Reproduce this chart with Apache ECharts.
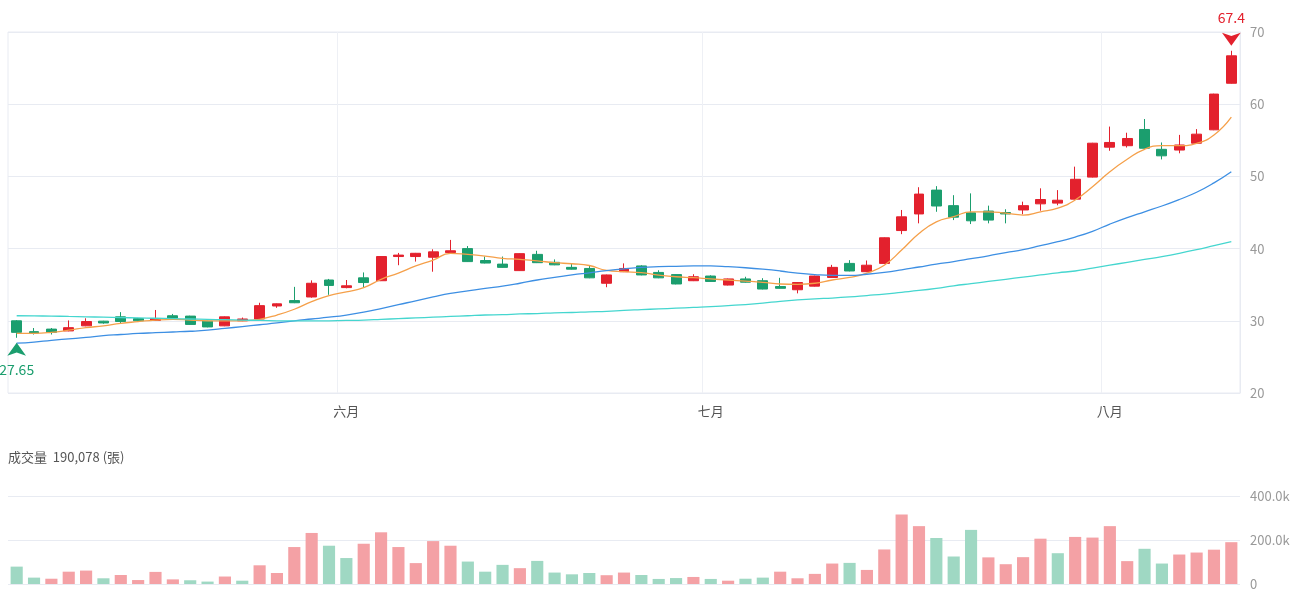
<!DOCTYPE html>
<html>
<head>
<meta charset="utf-8">
<title>K線圖</title>
<script src="https://cdn.jsdelivr.net/npm/echarts@6/dist/echarts.min.js"></script>
<style>
  html, body { margin: 0; padding: 0; background: #fff; }
  #main { width: 1300px; height: 600px; }
</style>
</head>
<body>
<div id="main"></div>
<script>
// trading days
var dates = [
  '2025-05-05','2025-05-06','2025-05-07','2025-05-08','2025-05-09','2025-05-12','2025-05-13','2025-05-14','2025-05-15','2025-05-16',
  '2025-05-19','2025-05-20','2025-05-21','2025-05-22','2025-05-23','2025-05-26','2025-05-27','2025-05-28','2025-05-29',
  '2025-06-02','2025-06-03','2025-06-04','2025-06-05','2025-06-06','2025-06-09','2025-06-10','2025-06-11','2025-06-12','2025-06-13',
  '2025-06-16','2025-06-17','2025-06-18','2025-06-19','2025-06-20','2025-06-23','2025-06-24','2025-06-25','2025-06-26','2025-06-27','2025-06-30',
  '2025-07-01','2025-07-02','2025-07-03','2025-07-04','2025-07-07','2025-07-08','2025-07-09','2025-07-10','2025-07-11',
  '2025-07-14','2025-07-15','2025-07-16','2025-07-17','2025-07-18','2025-07-21','2025-07-22','2025-07-23','2025-07-24','2025-07-25',
  '2025-07-28','2025-07-29','2025-07-30','2025-07-31',
  '2025-08-01','2025-08-04','2025-08-05','2025-08-06','2025-08-07','2025-08-08','2025-08-11','2025-08-12'
];
var monthNames = ['一月','二月','三月','四月','五月','六月','七月','八月','九月','十月','十一月','十二月'];

var openPrices = [
  30.0, 28.5, 28.85, 28.6, 29.3, 29.95, 30.55, 30.3, 30.05, 30.7,
  30.65, 29.95, 29.3, 30.0, 30.25, 32.05, 32.8, 33.3, 35.65, 34.6,
  35.95, 35.55, 38.9, 38.9, 38.8, 39.45, 40.0, 38.35, 37.85, 36.95,
  39.2, 38.1, 37.4, 37.25, 35.2, 36.8, 37.6, 36.7, 36.4, 35.55,
  36.2, 34.95, 35.8, 35.55, 34.75, 34.3, 34.8, 36.0, 37.95, 36.8,
  37.95, 42.5, 44.8, 48.1, 45.95, 44.95, 45.2, 45.0, 45.35, 46.2,
  46.3, 46.85, 49.9, 54.05, 54.25, 56.5, 53.75, 53.65, 54.6, 56.45,
  62.9
];
var closePrices = [
  28.4, 28.3, 28.4, 29.05, 29.9, 29.7, 29.9, 30.0, 30.3, 30.38,
  29.5, 29.15, 30.55, 30.25, 32.1, 32.35, 32.5, 35.2, 34.9, 34.85,
  35.3, 38.9, 39.1, 39.35, 39.55, 39.7, 38.2, 38.0, 37.4, 39.3,
  38.05, 37.75, 37.15, 35.95, 36.35, 37.25, 36.35, 35.95, 35.1, 36.1,
  35.45, 35.8, 35.35, 34.4, 34.5, 35.3, 36.2, 37.4, 36.9, 37.7,
  41.5, 44.4, 47.55, 45.9, 44.35, 43.85, 43.95, 44.8, 45.95, 46.8,
  46.7, 49.6, 54.6, 54.7, 55.25, 53.9, 52.85, 54.35, 55.85, 61.4,
  66.7
];
var lowPrices = [
  27.65, 28.1, 28.1, 28.55, 29.25, 29.6, 29.65, 29.85, 30.0, 30.3,
  29.45, 29.1, 29.25, 29.95, 30.0, 31.8, 32.45, 33.2, 33.6, 34.5,
  34.65, 35.5, 37.7, 38.2, 36.8, 39.4, 38.15, 37.95, 37.35, 36.9,
  38.0, 37.7, 37.1, 35.9, 34.65, 36.75, 36.3, 35.9, 35.05, 35.5,
  35.4, 34.9, 35.3, 34.35, 34.45, 33.8, 34.75, 35.95, 36.85, 36.75,
  37.9, 42.0, 43.5, 45.1, 43.95, 43.4, 43.5, 43.5, 44.75, 45.25,
  46.0, 46.8, 49.85, 53.55, 54.0, 53.85, 52.35, 53.2, 54.5, 56.4,
  62.85
];
var highPrices = [
  30.1, 29.0, 29.0, 30.05, 30.35, 30.0, 31.2, 30.4, 31.5, 30.95,
  30.7, 30.0, 30.6, 30.45, 32.5, 32.4, 34.7, 35.6, 35.8, 35.65,
  36.7, 38.95, 39.4, 39.4, 39.9, 41.2, 40.35, 38.9, 38.9, 39.35,
  39.7, 38.5, 37.95, 37.6, 36.4, 37.95, 37.7, 37.0, 36.45, 36.45,
  36.3, 35.85, 36.1, 35.9, 35.95, 35.35, 36.25, 37.75, 38.4, 38.35,
  41.55, 45.35, 48.5, 48.65, 47.4, 47.65, 45.95, 45.45, 46.5, 48.35,
  48.1, 51.35, 54.65, 56.9, 56.05, 57.95, 54.7, 55.75, 56.55, 61.45,
  67.4
];

// moving averages
var ma5 = [
  28.27, 28.27, 28.4, 28.7, 29.05, 29.3, 29.65, 29.88, 30.1, 30.2,
  30.1, 30.0, 30.0, 30.0, 30.2, 30.8, 31.6, 32.65, 33.5, 34.0,
  34.6, 35.75, 36.6, 37.6, 38.4, 39.35, 39.2, 38.97, 38.66, 38.5,
  38.3, 38.05, 37.9, 37.66, 36.97, 36.8, 36.67, 36.34, 36.1, 35.97,
  35.8, 35.65, 35.5, 35.33, 35.1, 35.05, 35.2, 35.65, 36.0, 36.6,
  37.7, 39.8, 42.1, 43.7, 44.42, 45.1, 45.1, 44.9, 44.65, 45.1,
  45.6, 46.73, 48.57, 50.65, 52.37, 53.75, 54.25, 54.25, 54.58, 55.73,
  58.2
];
var ma20 = [
  26.9, 27.05, 27.3, 27.5, 27.7, 27.95, 28.1, 28.25, 28.35, 28.45,
  28.55, 28.7, 28.95, 29.2, 29.45, 29.7, 30.0, 30.25, 30.5, 30.8,
  31.2, 31.7, 32.25, 32.75, 33.3, 33.8, 34.15, 34.5, 34.8, 35.2,
  35.65, 36.0, 36.35, 36.65, 36.95, 37.2, 37.4, 37.5, 37.55, 37.6,
  37.6, 37.5, 37.35, 37.15, 36.9, 36.6, 36.4, 36.3, 36.3, 36.45,
  36.7, 37.05, 37.45, 37.85, 38.2, 38.6, 39.0, 39.45, 39.85, 40.4,
  40.95, 41.6, 42.4, 43.4, 44.3, 45.1, 45.9, 46.8, 47.8, 49.1,
  50.65
];
var ma60 = [
  30.7, 30.68, 30.65, 30.6, 30.55, 30.5, 30.45, 30.4, 30.35, 30.3,
  30.25, 30.2, 30.15, 30.1, 30.05, 30.0, 29.98, 29.98, 30.0, 30.05,
  30.1, 30.2, 30.3, 30.4, 30.5, 30.6, 30.7, 30.8, 30.85, 30.95,
  31.0, 31.1, 31.15, 31.25, 31.3, 31.45, 31.55, 31.65, 31.75, 31.85,
  31.95, 32.1, 32.25, 32.45, 32.7, 32.9, 33.05, 33.15, 33.3, 33.5,
  33.7, 33.95, 34.2, 34.5, 34.85, 35.15, 35.45, 35.75, 36.05, 36.35,
  36.65, 36.9, 37.3, 37.7, 38.1, 38.5, 38.9, 39.35, 39.85, 40.4,
  40.95
];

// 成交量 (張)
var volumes = [
  79000, 29000, 24000, 56000, 61000, 26000, 41000, 18000, 55000, 21000,
  17000, 11000, 34000, 15000, 85000, 50000, 168000, 232000, 174000, 118000,
  183000, 235000, 168000, 95000, 195000, 174000, 102000, 56000, 87000, 72000,
  105000, 52000, 44000, 50000, 40000, 52000, 41000, 23000, 27000, 32000,
  23000, 15000, 24000, 29000, 56000, 26000, 46000, 93000, 96000, 64000,
  157000, 316000, 263000, 209000, 125000, 246000, 121000, 90000, 122000, 206000,
  140000, 214000, 211000, 263000, 104000, 160000, 93000, 134000, 143000, 156000,
  190078
];

var RED = '#e3212d';
var GREEN = '#1b9e6e';
var VOL_RED = '#f4a1a5';
var VOL_GREEN = '#9fd8c3';
var GRID_LINE = '#e8ebf2';
var FONT = '"Noto Sans CJK TC", "Noto Sans", sans-serif';

var kData = dates.map(function (d, i) {
  return [openPrices[i], closePrices[i], lowPrices[i], highPrices[i]];
});

function isMonthStart(i) {
  return i > 0 && dates[i].slice(5, 7) !== dates[i - 1].slice(5, 7);
}

var chart = echarts.init(document.getElementById('main'));

var option = {
  animation: false,
  textStyle: { fontFamily: FONT },
  title: {
    text: '成交量  ' + volumes[volumes.length - 1].toLocaleString('en-US') + ' (張)',
    left: 8,
    top: 451,
    padding: 0,
    textStyle: { fontSize: 13, fontWeight: 'normal', color: '#555', fontFamily: FONT }
  },
  grid: [
    { left: 8, right: 60, top: 32, height: 361, show: true, borderColor: GRID_LINE, borderWidth: 1 },
    { left: 8, right: 60, top: 496, height: 88 }
  ],
  xAxis: [
    {
      type: 'category',
      gridIndex: 0,
      data: dates,
      boundaryGap: true,
      axisLine: { show: false },
      axisTick: { show: false },
      axisLabel: {
        interval: function (i) { return isMonthStart(i); },
        formatter: function (v) { return monthNames[parseInt(v.slice(5, 7), 10) - 1]; },
        color: '#555',
        fontSize: 13,
        margin: 12
      },
      splitLine: {
        show: true,
        interval: function (i) { return isMonthStart(i); },
        lineStyle: { color: '#eef0f5' }
      }
    },
    {
      type: 'category',
      gridIndex: 1,
      data: dates,
      boundaryGap: true,
      axisLine: { show: false },
      axisTick: { show: false },
      axisLabel: { show: false },
      splitLine: { show: false }
    }
  ],
  yAxis: [
    {
      type: 'value',
      gridIndex: 0,
      position: 'right',
      min: 20,
      max: 70,
      interval: 10,
      axisLine: { show: true, lineStyle: { color: GRID_LINE } },
      axisTick: { show: false },
      axisLabel: { color: '#999', fontSize: 13, margin: 10 },
      splitLine: { lineStyle: { color: GRID_LINE } }
    },
    {
      type: 'value',
      gridIndex: 1,
      position: 'right',
      min: 0,
      max: 400000,
      interval: 200000,
      axisLine: { show: false },
      axisTick: { show: false },
      axisLabel: {
        color: '#999',
        fontSize: 13,
        margin: 10,
        formatter: function (v) { return v === 0 ? '0' : (v / 1000).toFixed(1) + 'k'; }
      },
      splitLine: { lineStyle: { color: GRID_LINE } }
    }
  ],
  series: [
    {
      name: 'K',
      type: 'candlestick',
      xAxisIndex: 0,
      yAxisIndex: 0,
      data: kData,
      barWidth: '60%',
      itemStyle: {
        color: RED,
        color0: GREEN,
        borderColor: RED,
        borderColor0: GREEN,
        borderWidth: 1
      },
      markPoint: {
        symbol: 'arrow',
        symbolSize: [14, 13],
        data: [
          {
            type: 'max', valueDim: 'highest',
            symbolRotate: 180, symbolOffset: [0, -5],
            itemStyle: { color: RED },
            label: { show: true, position: 'top', distance: 8, color: RED, fontSize: 14 }
          },
          {
            type: 'min', valueDim: 'lowest',
            symbolOffset: [0, 5],
            itemStyle: { color: GREEN },
            label: { show: true, position: 'bottom', distance: 7, color: GREEN, fontSize: 14 }
          }
        ]
      }
    },
    {
      name: 'MA5', type: 'line', data: ma5, smooth: true, showSymbol: false,
      lineStyle: { color: '#f5a04a', width: 1.3 }, itemStyle: { color: '#f5a04a' }
    },
    {
      name: 'MA20', type: 'line', data: ma20, smooth: true, showSymbol: false,
      lineStyle: { color: '#3d8fe3', width: 1.3 }, itemStyle: { color: '#3d8fe3' }
    },
    {
      name: 'MA60', type: 'line', data: ma60, smooth: true, showSymbol: false,
      lineStyle: { color: '#45d6cf', width: 1.3 }, itemStyle: { color: '#45d6cf' }
    },
    {
      name: '成交量',
      type: 'bar',
      xAxisIndex: 1,
      yAxisIndex: 1,
      data: volumes,
      barWidth: '70%',
      itemStyle: {
        color: function (p) {
          var i = p.dataIndex;
          var up = i === 0 ? closePrices[0] >= openPrices[0] : closePrices[i] >= closePrices[i - 1];
          return up ? VOL_RED : VOL_GREEN;
        }
      }
    }
  ]
};

chart.setOption(option);
</script>
</body>
</html>
